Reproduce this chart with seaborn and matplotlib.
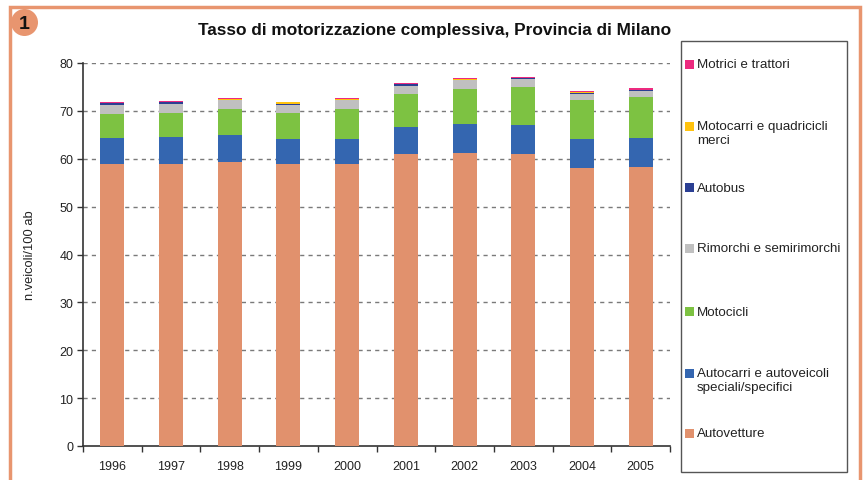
import numpy as np
import pandas as pd
import matplotlib
matplotlib.use("Agg")
import matplotlib.pyplot as plt
from matplotlib.patches import Rectangle, Circle
import seaborn as sns

years = ["1996", "1997", "1998", "1999", "2000", "2001", "2002", "2003", "2004", "2005"]
autovetture = [59.0, 59.0, 59.4, 58.8, 59.0, 60.9, 61.3, 60.9, 58.1, 58.3]
autocarri = [5.4, 5.6, 5.6, 5.4, 5.2, 5.8, 6.0, 6.2, 6.1, 6.1]
motocicli = [5.0, 5.0, 5.3, 5.4, 6.1, 6.9, 7.3, 7.8, 8.0, 8.4]
rimorchi = [1.9, 1.9, 1.9, 1.7, 1.9, 1.7, 1.8, 1.7, 1.4, 1.4]
autobus = [0.25, 0.25, 0.15, 0.2, 0.1, 0.25, 0.1, 0.3, 0.1, 0.2]
motocarri = [0.05, 0.05, 0.05, 0.25, 0.1, 0.05, 0.15, 0.05, 0.25, 0.05]
motrici = [0.3, 0.25, 0.35, 0.2, 0.25, 0.25, 0.25, 0.2, 0.25, 0.3]

series = [
    ("Autovetture", autovetture, "#E1916D"),
    ("Autocarri e autoveicoli\nspeciali/specifici", autocarri, "#3466B0"),
    ("Motocicli", motocicli, "#7DC242"),
    ("Rimorchi e semirimorchi", rimorchi, "#C0C0C0"),
    ("Autobus", autobus, "#2B3F93"),
    ("Motocarri e quadricicli\nmerci", motocarri, "#FFC20E"),
    ("Motrici e trattori", motrici, "#EC2A7F"),
]

W, H = 866, 481
fig = plt.figure(figsize=(W / 100, H / 100), dpi=100)
plt.rcParams["font.family"] = ["Liberation Sans", "DejaVu Sans"]

def fx(px):
    return px / W

def fy(py):
    return 1 - py / H

ax = fig.add_axes([fx(83), fy(447), fx(670) - fx(83), fy(64) - fy(447)])

# stacked bars: draw cumulative totals, tallest first
cum = np.zeros(len(years))
cums = []
for name, vals, col in series:
    cum = cum + np.array(vals)
    cums.append((name, cum.copy(), col))

for name, c, col in reversed(cums):
    df = pd.DataFrame({"anno": years, "valore": c})
    sns.barplot(data=df, x="anno", y="valore", color=col, width=0.41,
                saturation=1, ax=ax, linewidth=0, zorder=3)

ax.set_ylim(0, 80)
ax.set_xlim(-0.5, len(years) - 0.5)
ax.set_yticks(np.arange(0, 81, 10))
ax.set_facecolor("white")
ax.grid(False)
for yv in np.arange(10, 81, 10):
    ax.axhline(yv, color="#7A7A7A", lw=1.0, ls=(0, (3, 3)), zorder=1)

for s in ["top", "right"]:
    ax.spines[s].set_visible(False)
for s in ["left", "bottom"]:
    ax.spines[s].set_color("#333333")
    ax.spines[s].set_linewidth(1.2)

ax.tick_params(axis="y", direction="out", length=4, width=1, color="#333333",
               labelsize=9, labelcolor="#222222", pad=3)
ax.tick_params(axis="x", which="major", length=0, labelsize=9,
               labelcolor="#222222", pad=10)
ax.set_xticks(np.arange(-0.5, len(years), 1.0), minor=True)
ax.tick_params(axis="x", which="minor", direction="out", length=4, width=1,
               color="#333333")
ax.set_xlabel("")
ax.set_ylabel("n.veicoli/100 ab", fontsize=9.3, color="#222222", labelpad=17)

# title
fig.text(fx(435), fy(31), "Tasso di motorizzazione complessiva, Provincia di Milano",
         ha="center", va="center", fontsize=12.4, fontweight="bold", color="#111111")

# outer frame
frame_col = "#E8956F"
fig.patches.append(Rectangle((fx(10), fy(500)), fx(860) - fx(10), fy(8) - fy(500),
                             transform=fig.transFigure, fill=False,
                             edgecolor=frame_col, lw=2.5, clip_on=False))
# badge
badge_ax = fig.add_axes([fx(11), fy(37), fx(38) - fx(11), fy(10) - fy(37)])
badge_ax.set_xlim(-1, 1)
badge_ax.set_ylim(-1, 1)
badge_ax.set_aspect("equal")
badge_ax.axis("off")
badge_ax.add_patch(Circle((0, 0), 1.0, facecolor=frame_col, edgecolor="none"))
badge_ax.text(0, -0.05, "1", ha="center", va="center", fontsize=14,
              fontweight="bold", color="#111111")

# legend box
fig.patches.append(Rectangle((fx(681), fy(473)), fx(847) - fx(681), fy(42) - fy(473),
                             transform=fig.transFigure, fill=False,
                             edgecolor="#555555", lw=1.0))
leg_y = {
    "Motrici e trattori": 65,
    "Motocarri e quadricicli\nmerci": 127,
    "Autobus": 188,
    "Rimorchi e semirimorchi": 249,
    "Motocicli": 312,
    "Autocarri e autoveicoli\nspeciali/specifici": 374,
    "Autovetture": 434,
}
for name, vals, col in series:
    y = leg_y[name]
    fig.patches.append(Rectangle((fx(685), fy(y + 4.5)), fx(9), 9 / H,
                                 transform=fig.transFigure, facecolor=col,
                                 edgecolor="none"))
    fig.text(fx(697), fy(y - 5.5), name, ha="left", va="top", fontsize=9.6,
             color="#222222", linespacing=1.2)

fig.savefig("out.png", dpi=100)
